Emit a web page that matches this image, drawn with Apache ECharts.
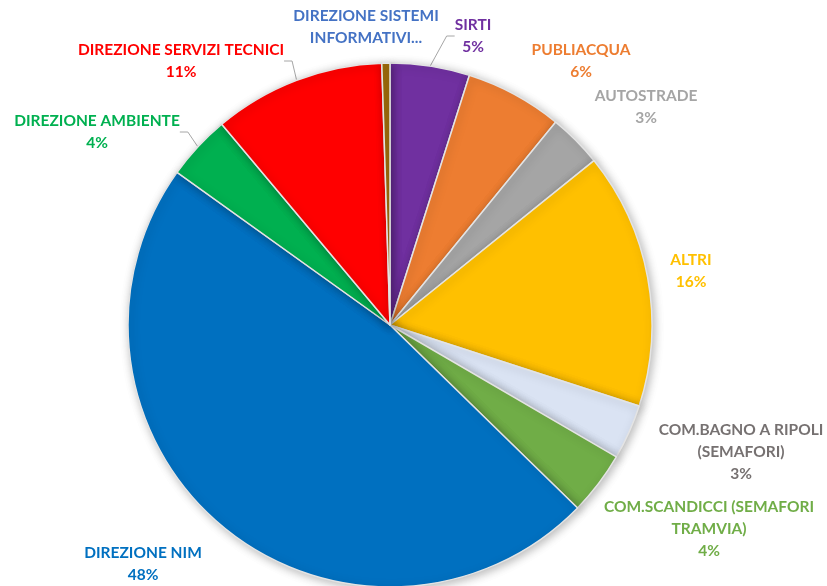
<!DOCTYPE html>
<html>
<head>
<meta charset="utf-8">
<script src="https://cdn.jsdelivr.net/npm/echarts@6/dist/echarts.min.js"></script>
<style>
html,body{margin:0;padding:0;background:#fff;}
#chart{width:827px;height:586px;}
</style>
</head>
<body>
<div id="chart"></div>
<script>
// Data (clockwise from 12 o'clock)
const categories = ['SIRTI', 'PUBLIACQUA', 'AUTOSTRADE', 'ALTRI', 'COM.BAGNO A RIPOLI (SEMAFORI)', 'COM.SCANDICCI (SEMAFORI TRAMVIA)', 'DIREZIONE NIM', 'DIREZIONE AMBIENTE', 'DIREZIONE SERVIZI TECNICI', 'DIREZIONE SISTEMI INFORMATIVI'];
const values = [4.9, 6.0, 3.3, 15.8, 3.4, 3.9, 47.6, 4.0, 10.6, 0.5];
const labelNames = ['SIRTI', 'PUBLIACQUA', 'AUTOSTRADE', 'ALTRI', 'COM.BAGNO A RIPOLI\n(SEMAFORI)', 'COM.SCANDICCI (SEMAFORI\nTRAMVIA)', 'DIREZIONE NIM', 'DIREZIONE AMBIENTE', 'DIREZIONE SERVIZI TECNICI', 'DIREZIONE SISTEMI\nINFORMATIVI...'];
const showPercent = [true, true, true, true, true, true, true, true, true, false];

// Styles / layout
const sliceColors = ['#7030A0', '#ED7D31', '#A5A5A5', '#FFC000', '#DAE3F3', '#70AD47', '#0070C0', '#00B050', '#FF0000', '#9C6A0B'];
const labelColors = ['#7030A0', '#ED7D31', '#A5A5A5', '#FFC000', '#767171', '#70AD47', '#0070C0', '#00B050', '#FF0000', '#4472C4'];
const labelPos = [[473, 36], [581, 61], [646, 107], [691, 271], [741, 452], [709, 529], [143, 564], [97, 132], [181, 61], [366, 27]];
const withLine = [true, false, false, false, false, false, false, true, true, false];

const total = values.reduce((a, b) => a + b, 0);
const chart = echarts.init(document.getElementById('chart'), null, {renderer: 'canvas'});
chart.setOption({
  backgroundColor: '#ffffff',
  animation: false,
  series: [{
    type: 'pie',
    center: [390, 325],
    radius: [0, 262],
    startAngle: 90,
    clockwise: true,
    avoidLabelOverlap: false,
    itemStyle: {
      borderColor: '#e4e4e4',
      borderWidth: 1.5,
      shadowBlur: 10,
      shadowColor: 'rgba(0,0,0,0.28)',
      shadowOffsetX: 2,
      shadowOffsetY: 2
    },
    label: {
      show: true,
      position: 'outside',
      fontFamily: 'Lato',
      fontWeight: 'bold',
      fontSize: 15.5,
      lineHeight: 22,
      align: 'center',
      formatter: function (p) {
        const i = p.dataIndex;
        return showPercent[i] ? labelNames[i] + '\n' + Math.round(values[i] / total * 100) + '%' : labelNames[i];
      }
    },
    labelLine: {show: false, lineStyle: {color: '#A6A6A6', width: 1}},
    labelLayout: function (params) {
      const i = params.dataIndex;
      return {x: labelPos[i][0], y: labelPos[i][1], align: 'center', verticalAlign: 'middle'};
    },
    data: categories.map((c, i) => ({
      name: c,
      value: values[i],
      itemStyle: {color: sliceColors[i]},
      label: {color: labelColors[i]},
      labelLine: {show: withLine[i], length: 8, length2: 8}
    }))
  }]
});
</script>
</body>
</html>
